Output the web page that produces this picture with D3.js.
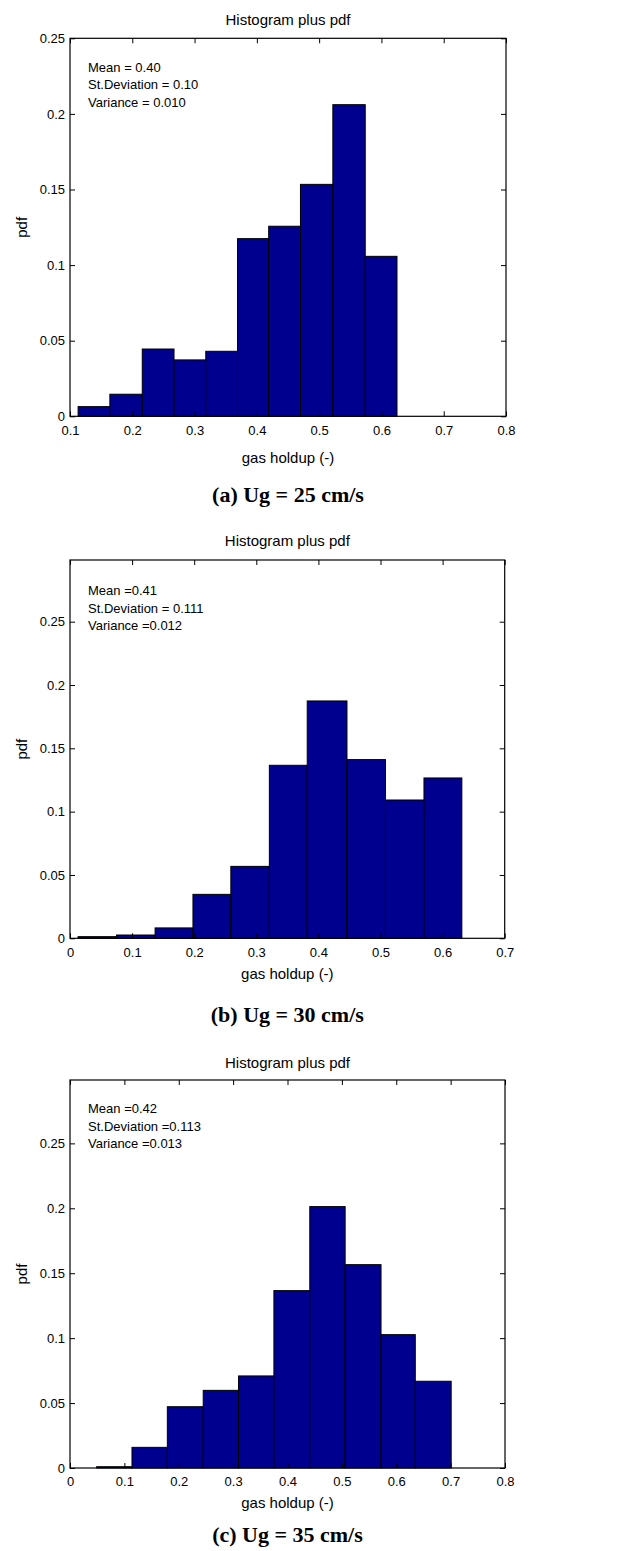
<!DOCTYPE html>
<html>
<head>
<meta charset="utf-8">
<script src="https://cdn.jsdelivr.net/npm/d3@7"></script>
<style>
  body { margin: 0; background: #fff; }
  svg { display: block; }
</style>
</head>
<body>
<script>
// bin edges and pdf heights
const edgesA = [0.113, 0.164, 0.216, 0.267, 0.318, 0.369, 0.419, 0.470, 0.522, 0.574, 0.625];
const pdfA = [0.0064, 0.0146, 0.0445, 0.0373, 0.0430, 0.1175, 0.1257, 0.1534, 0.2061, 0.1058];
const statsA = ["Mean = 0.40", "St.Deviation = 0.10", "Variance = 0.010"];

const edgesB = [0.013, 0.075, 0.137, 0.198, 0.259, 0.321, 0.382, 0.446, 0.508, 0.570, 0.631];
const pdfB = [0.0013, 0.0026, 0.0082, 0.0347, 0.0568, 0.1366, 0.1874, 0.1411, 0.1092, 0.1266];
const statsB = ["Mean =0.41", "St.Deviation = 0.111", "Variance =0.012"];

const edgesC = [0.049, 0.114, 0.179, 0.245, 0.310, 0.375, 0.441, 0.506, 0.572, 0.635, 0.701];
const pdfC = [0.001, 0.0159, 0.0472, 0.0598, 0.0709, 0.1366, 0.2013, 0.1566, 0.1027, 0.0668];
const statsC = ["Mean =0.42", "St.Deviation =0.113", "Variance =0.013"];

const yTicks = [0, 0.05, 0.1, 0.15, 0.2, 0.25];
const xTicksA = [0.1, 0.2, 0.3, 0.4, 0.5, 0.6, 0.7, 0.8];
const xTicksB = [0, 0.1, 0.2, 0.3, 0.4, 0.5, 0.6, 0.7];
const xTicksC = [0, 0.1, 0.2, 0.3, 0.4, 0.5, 0.6, 0.7, 0.8];

const captions = ["(a) Ug = 25 cm/s", "(b) Ug = 30 cm/s", "(c) Ug = 35 cm/s"];

const W = 644, H = 1551;
const sans = "'Liberation Sans', Arial, sans-serif";

const svg = d3.select("body").append("svg")
    .attr("width", W)
    .attr("height", H)
    .style("font-family", sans);

svg.append("rect").attr("width", W).attr("height", H).attr("fill", "#fff");

function fmt(d) {
    return d === 0 ? "0" : String(+d.toFixed(2));
}

function panel(cfg) {
    const { left, right, top, bottom, xDomain, yMax, xTicks, edges, pdf, stats, caption, statsY, titleY, xLabelY, captionY } = cfg;
    const w = right - left, h = bottom - top;

    const x = d3.scaleLinear().domain(xDomain).range([0, w]);
    const y = d3.scaleLinear().domain([0, yMax]).range([h, 0]);

    const g = svg.append("g").attr("transform", `translate(${left},${top})`);

    const bins = pdf.map((v, i) => ({ x0: edges[i], x1: edges[i + 1], v }));

    // bars
    g.selectAll("rect.bar")
        .data(bins)
        .join("rect")
        .attr("class", "bar")
        .attr("x", d => x(d.x0))
        .attr("y", d => y(d.v))
        .attr("width", d => x(d.x1) - x(d.x0))
        .attr("height", d => h - y(d.v))
        .attr("fill", "#00008f")
        .attr("stroke", "#000")
        .attr("stroke-width", 1);

    // axes with inward ticks on all four sides
    const styleAxis = sel => {
        sel.select(".domain").remove();
        sel.selectAll("line").attr("stroke", "#000");
        sel.selectAll("text").attr("fill", "#000").style("font-size", "13px").style("font-family", sans);
    };

    g.append("g")
        .attr("transform", `translate(0,${h})`)
        .call(d3.axisBottom(x).tickValues(xTicks).tickFormat(fmt).tickSize(-5).tickPadding(9))
        .call(styleAxis);

    g.append("g")
        .call(d3.axisTop(x).tickValues(xTicks).tickFormat("").tickSize(-5))
        .call(styleAxis);

    g.append("g")
        .call(d3.axisLeft(y).tickValues(yTicks).tickFormat(fmt).tickSize(-5).tickPadding(5))
        .call(styleAxis);

    g.append("g")
        .attr("transform", `translate(${w},0)`)
        .call(d3.axisRight(y).tickValues(yTicks).tickFormat("").tickSize(-5))
        .call(styleAxis);

    // frame
    g.append("rect")
        .attr("width", w)
        .attr("height", h)
        .attr("fill", "none")
        .attr("stroke", "#000")
        .attr("stroke-width", 1.2);

    // stats text
    g.append("g").selectAll("text")
        .data(stats)
        .join("text")
        .attr("x", 18)
        .attr("y", (d, i) => statsY - top + i * 17.5)
        .style("font-size", "13px")
        .attr("fill", "#000")
        .text(d => d);

    // title
    svg.append("text")
        .attr("x", left + w / 2)
        .attr("y", titleY)
        .attr("text-anchor", "middle")
        .style("font-size", "15px")
        .text("Histogram plus pdf");

    // x label
    svg.append("text")
        .attr("x", left + w / 2)
        .attr("y", xLabelY)
        .attr("text-anchor", "middle")
        .style("font-size", "15px")
        .text("gas holdup (-)");

    // y label
    svg.append("text")
        .attr("transform", `translate(27,${top + h / 2}) rotate(-90)`)
        .attr("text-anchor", "middle")
        .style("font-size", "15px")
        .text("pdf");

    // caption
    svg.append("text")
        .attr("x", left + w / 2)
        .attr("y", captionY)
        .attr("text-anchor", "middle")
        .style("font-family", "'Liberation Serif', 'Times New Roman', serif")
        .style("font-weight", "bold")
        .style("font-size", "22px")
        .text(caption);
}

panel({
    left: 70, right: 506, top: 38.3, bottom: 416.3,
    xDomain: [0.1, 0.8], yMax: 0.25, xTicks: xTicksA,
    edges: edgesA, pdf: pdfA, stats: statsA, caption: captions[0],
    statsY: 72, titleY: 25, xLabelY: 463, captionY: 502
});

panel({
    left: 70, right: 504.7, top: 560, bottom: 938.3,
    xDomain: [0, 0.7], yMax: 0.2987, xTicks: xTicksB,
    edges: edgesB, pdf: pdfB, stats: statsB, caption: captions[1],
    statsY: 595, titleY: 546, xLabelY: 979, captionY: 1022
});

panel({
    left: 70, right: 505, top: 1080, bottom: 1468,
    xDomain: [0, 0.8], yMax: 0.2988, xTicks: xTicksC,
    edges: edgesC, pdf: pdfC, stats: statsC, caption: captions[2],
    statsY: 1113, titleY: 1068, xLabelY: 1508, captionY: 1542
});
</script>
</body>
</html>
